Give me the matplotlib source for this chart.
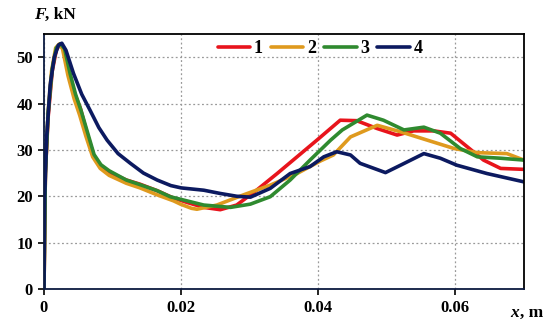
import matplotlib
matplotlib.use("Agg")
import matplotlib.pyplot as plt

x1 = [0, 0.0002, 0.0006, 0.0012, 0.0018, 0.0023, 0.0028, 0.0036, 0.0045, 0.0053, 0.0062, 0.0072, 0.0082, 0.0095, 0.012, 0.014, 0.0165, 0.0189, 0.0210, 0.0233, 0.0257, 0.0281, 0.031, 0.034, 0.0369, 0.0398, 0.0432, 0.0456, 0.0486, 0.0515, 0.0539, 0.0568, 0.0593, 0.0617, 0.0641, 0.0666, 0.07]
y1 = [0, 25, 37, 47, 51.5, 52.8, 52, 47, 42, 39, 34, 29, 26.6, 25.2, 23.5, 22.6, 21.2, 19.6, 18.6, 17.6, 17.1, 18.1, 21.3, 24.9, 28.5, 32.1, 36.4, 36.3, 34.6, 33.2, 34.1, 34.1, 33.6, 30.7, 27.8, 26.0, 25.8]

x2 = [0, 0.0002, 0.0006, 0.0011, 0.0017, 0.0022, 0.0027, 0.0035, 0.0044, 0.0052, 0.0061, 0.0071, 0.0082, 0.0095, 0.012, 0.014, 0.0165, 0.0189, 0.0199, 0.0215, 0.0223, 0.0252, 0.0291, 0.033, 0.0369, 0.0403, 0.0422, 0.0447, 0.0486, 0.052, 0.0559, 0.0598, 0.0632, 0.0675, 0.07]
y2 = [0, 25, 38, 47, 52, 52.8, 51.8, 46, 41, 37.5, 33, 28.5, 26, 24.5, 22.8, 21.8, 20.3, 19.0, 18.3, 17.4, 17.2, 18.1, 20.3, 22.4, 24.9, 27.6, 28.9, 32.8, 35.3, 33.9, 32.1, 30.3, 29.4, 29.2, 27.8]

x3 = [0, 0.0002, 0.0006, 0.0012, 0.0018, 0.0024, 0.003, 0.0038, 0.0046, 0.0054, 0.0063, 0.0073, 0.0083, 0.0095, 0.012, 0.014, 0.0165, 0.0184, 0.0233, 0.0272, 0.0301, 0.033, 0.0359, 0.0388, 0.0418, 0.0435, 0.0471, 0.0495, 0.0525, 0.0554, 0.0578, 0.0607, 0.0632, 0.0666, 0.07]
y3 = [0, 25, 38, 47.5, 52, 52.9, 51.8, 46.5, 42, 38.5, 34, 29, 26.8, 25.5, 23.5, 22.5, 21.2, 19.9, 18.1, 17.6, 18.3, 19.9, 23.5, 27.8, 32.1, 34.3, 37.5, 36.4, 34.3, 34.9, 33.6, 30.3, 28.5, 28.2, 27.8]

x4 = [0, 0.0001, 0.0004, 0.0009, 0.0015, 0.0021, 0.0026, 0.0032, 0.0043, 0.0055, 0.0067, 0.008, 0.0092, 0.0108, 0.0126, 0.0145, 0.0165, 0.0185, 0.02, 0.0233, 0.0257, 0.0281, 0.0301, 0.033, 0.0359, 0.0388, 0.0408, 0.0427, 0.0447, 0.0461, 0.0498, 0.052, 0.0554, 0.0578, 0.0602, 0.0646, 0.07]
y4 = [0, 20, 33, 44, 50, 52.6, 53, 51.5, 46.5, 42, 38.6, 34.8, 32.1, 29.2, 27.1, 25, 23.5, 22.3, 21.8, 21.3, 20.6, 20.0, 19.8, 21.7, 24.9, 26.4, 28.5, 29.6, 28.9, 27.1, 25.1, 26.7, 29.2, 28.2, 26.7, 24.9, 23.1]

labels = ["1", "2", "3", "4"]
colors = ["#e8141c", "#df9a1e", "#2f8a2f", "#0c1a60"]
xticks = [0, 0.02, 0.04, 0.06]
xticklabels = ["0", "0.02", "0.04", "0.06"]
yticks = [0, 10, 20, 30, 40, 50]

serif = ["Liberation Serif", "DejaVu Serif"]
plt.rcParams["font.family"] = serif

fig = plt.figure(figsize=(5.5, 3.28), dpi=100)
ax = fig.add_axes([0.08, 0.119, 0.8727, 0.7774])

for xs, ys, lab, c in zip([x1, x2, x3, x4], [y1, y2, y3, y4], labels, colors):
    ax.plot(xs, ys, color=c, lw=2.6, label=lab, solid_joinstyle="round", solid_capstyle="round")

ax.set_xlim(0, 0.07)
ax.set_ylim(0, 55)
ax.set_xticks(xticks)
ax.set_xticklabels(xticklabels)
ax.set_yticks(yticks)
ax.grid(True, color="#999999", linestyle=(0, (1.5, 2)), linewidth=0.9)
ax.tick_params(direction="out", length=4, width=1.2, labelsize=12, pad=4)
for lab in ax.get_xticklabels() + ax.get_yticklabels():
    lab.set_fontweight("bold")
for s in ax.spines.values():
    s.set_linewidth(1.3)
    s.set_color("black")
ax.spines["left"].set_color("#0c1a40")
ax.spines["bottom"].set_color("#0c1a40")

fig.text(0.062, 0.955, "F", fontsize=12.5, fontweight="bold", style="italic", va="center", ha="left")
fig.text(0.081, 0.955, ", kN", fontsize=12.5, fontweight="bold", va="center", ha="left")
fig.text(0.928, 0.045, "x", fontsize=12.5, fontweight="bold", style="italic", va="center", ha="left")
fig.text(0.946, 0.045, ", m", fontsize=12.5, fontweight="bold", va="center", ha="left")

leg = ax.legend(loc="center", bbox_to_anchor=(0.575, 0.943), ncol=4, frameon=False,
                handlelength=1.8, handletextpad=0.2, columnspacing=0.45,
                prop={"weight": "bold", "size": 13})
fig.savefig("out.png", dpi=100)
